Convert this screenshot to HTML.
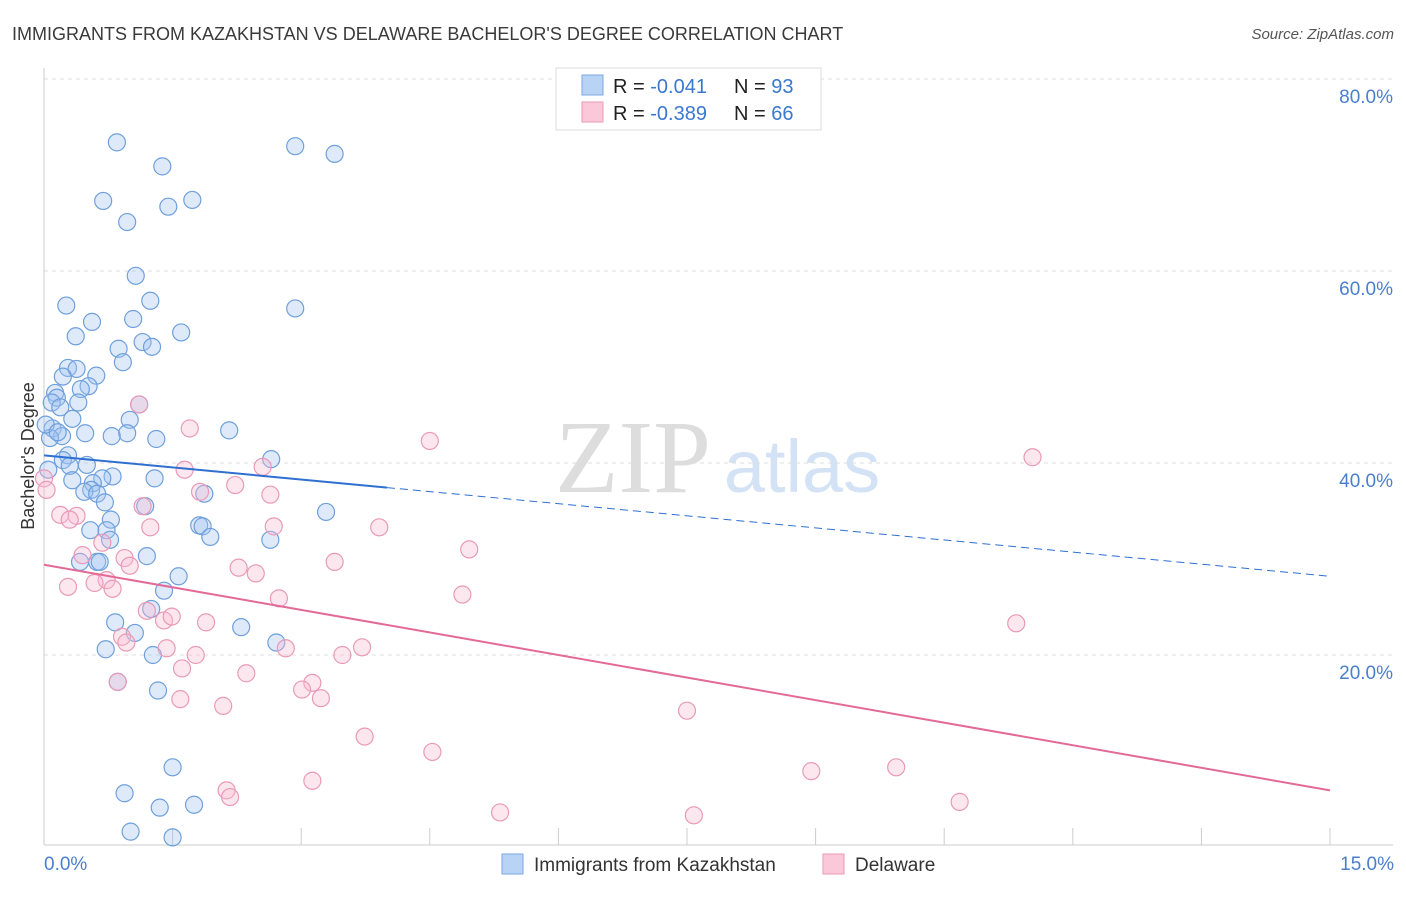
<!DOCTYPE html>
<html><head><meta charset="utf-8"><style>
body{margin:0;background:#fff;font-family:"Liberation Sans",sans-serif;}
svg text{font-family:"Liberation Sans",sans-serif;}
</style></head><body>
<svg id="chart" width="1406" height="892">
<text x="12" y="40" font-size="18" fill="#3a3a3a">IMMIGRANTS FROM KAZAKHSTAN VS DELAWARE BACHELOR'S DEGREE CORRELATION CHART</text>
<text x="1394" y="39" font-size="15" fill="#555" text-anchor="end" font-style="italic">Source: ZipAtlas.com</text>
<g>
<text x="633" y="492" font-size="104" fill="#ddd" text-anchor="middle" style="font-family:'Liberation Serif',serif">ZIP</text>
<text x="802" y="492" font-size="74" fill="#d3e2f4" text-anchor="middle">atlas</text>
</g>
<g id="grid"></g><g id="axes"></g><g id="pts"></g><g id="trends"></g>
<text transform="translate(34,456) rotate(-90)" font-size="18" fill="#333" text-anchor="middle">Bachelor's Degree</text>
<g>
<rect x="556" y="68" width="265" height="62" fill="#fff" stroke="#ddd"/>
<rect x="582" y="75" width="21" height="20" fill="#b9d3f5" stroke="#7aa8e2"/>
<rect x="582" y="102" width="21" height="20" fill="#fac8d8" stroke="#eb9ab6"/>
<text x="613" y="93" font-size="20" fill="#222">R = <tspan fill="#3a78d0">-0.041</tspan><tspan x="734">N = </tspan><tspan fill="#3a78d0">93</tspan></text>
<text x="613" y="120" font-size="20" fill="#222">R = <tspan fill="#3a78d0">-0.389</tspan><tspan x="734">N = </tspan><tspan fill="#3a78d0">66</tspan></text>
</g>
<g>
<rect x="502" y="854" width="21" height="20" fill="#b9d3f5" stroke="#7aa8e2"/>
<text x="534" y="871" font-size="19" fill="#333">Immigrants from Kazakhstan</text>
<rect x="823" y="854" width="21" height="20" fill="#fac8d8" stroke="#eb9ab6"/>
<text x="855" y="871" font-size="19" fill="#333">Delaware</text>
</g>
</svg>
<script>
const yTicks=[20,40,60,80];
const xTickLabels=["0.0%","15.0%"];
const blueX=[0.85,2.93,3.39,1.38,0.69,1.73,1.45,0.97,1.07,1.24,0.26,2.93,0.56,1.04,1.60,0.37,1.15,1.26,0.87,0.92,0.28,0.38,0.61,0.52,0.43,0.13,0.15,0.09,0.40,0.19,1.11,0.33,1.00,0.10,0.48,0.97,0.21,0.07,2.16,1.31,0.28,0.22,0.30,0.50,2.65,0.80,0.68,1.29,0.33,0.57,0.55,0.47,0.62,1.87,0.71,1.18,3.29,0.78,1.81,1.85,0.54,0.73,1.94,2.64,0.77,1.20,0.42,0.62,0.65,1.57,1.40,1.25,0.83,2.30,1.06,0.72,2.71,1.27,0.86,1.33,1.50,0.94,1.75,1.35,1.01,1.50,0.05,0.02,0.16,0.22,0.79];
const blueY=[73.4,73.0,72.2,70.9,67.3,67.4,66.7,65.1,59.5,56.9,56.4,56.1,54.7,55.0,53.6,53.2,52.6,52.1,51.9,50.5,49.9,49.8,49.1,48.0,47.7,47.3,46.8,46.3,46.3,45.8,46.1,44.6,44.5,43.6,43.1,43.1,42.8,42.6,43.4,42.5,40.8,40.3,39.7,39.8,40.4,38.6,38.4,38.4,38.2,37.9,37.2,37.0,36.8,36.8,35.9,35.5,34.9,34.1,33.5,33.4,33.0,33.0,32.3,32.0,32.0,30.3,29.7,29.7,29.7,28.2,26.7,24.8,23.4,22.9,22.3,20.6,21.3,20.0,17.2,16.3,8.3,5.6,4.4,4.1,1.6,1.0,39.3,44.0,43.2,49.0,42.8];
const pinkX=[1.11,1.70,4.50,11.53,2.55,1.64,0.0,2.23,1.82,2.64,0.03,1.15,0.19,0.38,0.30,1.24,2.68,3.91,0.68,4.96,0.45,0.94,3.39,1.00,2.27,2.47,0.73,0.59,0.28,0.80,4.88,2.74,1.20,1.40,1.49,1.89,11.34,0.91,0.96,1.43,3.71,1.77,2.82,3.48,1.61,2.36,3.13,3.01,3.23,1.59,2.09,7.50,3.74,4.53,3.13,2.13,2.17,8.95,9.94,10.68,5.32,7.58,0.86];
const pinkY=[46.1,43.6,42.3,40.6,39.6,39.3,38.4,37.7,37.0,36.7,37.2,35.5,34.6,34.5,34.1,33.3,33.4,33.3,31.7,31.0,30.4,30.1,29.7,29.3,29.1,28.5,27.8,27.5,27.1,26.9,26.3,25.9,24.6,23.6,24.0,23.4,23.3,21.9,21.3,20.7,20.8,20.0,20.7,20.0,18.6,18.1,17.1,16.4,15.5,15.4,14.7,14.2,11.5,9.9,6.9,5.9,5.2,7.9,8.3,4.7,3.6,3.3,17.2];
const blueTrend=[40.8,28.2];
const pinkTrend=[29.4,5.9];
const blueSolidEnd=4.0;
const NS="http://www.w3.org/2000/svg";
const X0=44,X1=1330,Y0=847,PXY=9.6;
function sx(v){return X0+(X1-X0)*v/15;}
function sy(v){return Y0-v*PXY;}
function mk(tag,attrs,parent){const e=document.createElementNS(NS,tag);for(const k in attrs)e.setAttribute(k,attrs[k]);document.getElementById(parent).appendChild(e);return e;}
yTicks.forEach(t=>{
 const l=mk('line',{x1:44,x2:1393,y1:sy(t),y2:sy(t),stroke:'#ddd','stroke-dasharray':'4,4'},'grid');
 
 
 const tx=mk('text',{x:1393,y:sy(t)+24,'font-size':19,fill:'#4a7fcc','text-anchor':'end'},'grid');
 tx.textContent=t.toFixed(1)+'%';
 
 
});
const ax=mk('line',{x1:44,x2:44,y1:68,y2:845,stroke:'#ccc'},'axes');


const bx=mk('line',{x1:44,x2:1393,y1:845,y2:845,stroke:'#ccc'},'axes');


for(let i=0;i<=10;i++){const t=mk('line',{x1:sx(i*1.5),x2:sx(i*1.5),y1:828,y2:845,stroke:'#ccc'},'axes');
 
 }
[[0,'start',44],[15,'end',1394]].forEach((d,i)=>{const t=mk('text',{x:d[2],y:870,'font-size':19,fill:'#4a7fcc','text-anchor':d[1]},'axes');t.textContent=xTickLabels[i];
 
 });
function pts(xs,ys,fill,stroke,name){xs.forEach((v,i)=>{const c=mk('circle',{cx:sx(v),cy:sy(ys[i]),r:8.5,fill:fill,stroke:stroke,'stroke-width':1.2},'pts');
 
 });}
pts(blueX,blueY,'rgba(160,196,240,0.35)','#6fa0dc','kazakhstan-point');
pts(pinkX,pinkY,'rgba(248,185,208,0.35)','#e99ab6','delaware-point');
function ty(tr,x){return tr[0]+(tr[1]-tr[0])*x/15;}
const b1=mk('line',{x1:sx(0),y1:sy(blueTrend[0]),x2:sx(blueSolidEnd),y2:sy(ty(blueTrend,blueSolidEnd)),stroke:'#2e6fd0','stroke-width':2},'trends');


const b2=mk('line',{x1:sx(blueSolidEnd),y1:sy(ty(blueTrend,blueSolidEnd)),x2:sx(15),y2:sy(blueTrend[1]),stroke:'#2e6fd0','stroke-width':1,'stroke-dasharray':'8,5'},'trends');


const p1=mk('line',{x1:sx(0),y1:sy(pinkTrend[0]),x2:sx(15),y2:sy(pinkTrend[1]),stroke:'#e36a96','stroke-width':2},'trends');


</script>
</body></html>
